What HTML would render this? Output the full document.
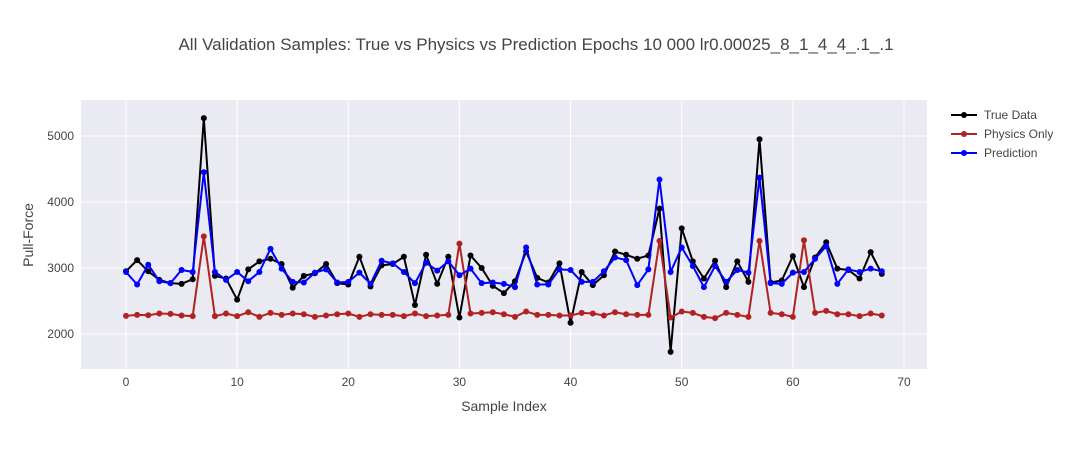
<!DOCTYPE html>
<html><head><meta charset="utf-8"><style>
body{margin:0;background:#fff;font-family:"Liberation Sans",sans-serif;}
svg text{font-family:"Liberation Sans",sans-serif;fill:#444;}
</style></head><body>
<svg id="chart" width="1073" height="450">
<text x="536" y="50" text-anchor="middle" font-size="17">All Validation Samples: True vs Physics vs Prediction Epochs 10 000 lr0.00025_8_1_4_4_.1_.1</text>
<rect x="81" y="100" width="846" height="269" fill="#eaeaf2"/>
<g id="grid"></g><g id="series"></g><g id="axes"></g>
<text x="504" y="411" text-anchor="middle" font-size="14">Sample Index</text>
<text transform="translate(33,235) rotate(-90)" text-anchor="middle" font-size="14">Pull-Force</text>
<g id="legend"></g>
</svg>
<script>
const trueData=[2950,3120,2950,2820,2770,2760,2830,5270,2880,2840,2520,2980,3100,3140,3060,2700,2880,2920,3060,2770,2750,3170,2720,3040,3060,3170,2440,3200,2760,3170,2250,3190,3000,2730,2620,2800,3250,2850,2780,3070,2170,2940,2740,2890,3250,3200,3140,3190,3900,1730,3600,3100,2840,3110,2710,3100,2790,4950,2780,2810,3180,2710,3160,3390,2990,2970,2840,3240,2910];
const physicsData=[2275,2290,2285,2310,2305,2280,2270,3480,2270,2310,2270,2330,2260,2320,2290,2310,2300,2260,2280,2300,2310,2260,2300,2290,2290,2270,2310,2270,2280,2290,3370,2310,2320,2330,2300,2260,2340,2290,2290,2280,2280,2320,2310,2280,2330,2300,2290,2290,3410,2250,2340,2320,2260,2240,2320,2290,2260,3410,2320,2300,2260,3420,2320,2350,2300,2300,2270,2310,2280];
const predData=[2940,2750,3050,2800,2770,2970,2940,4450,2940,2820,2940,2800,2940,3290,2990,2790,2780,2930,2980,2780,2790,2930,2760,3110,3070,2940,2770,3080,2960,3100,2890,2990,2770,2780,2760,2710,3310,2750,2750,2980,2970,2790,2790,2950,3160,3120,2740,2980,4340,2940,3310,3030,2710,3030,2790,2970,2930,4370,2770,2760,2930,2940,3140,3330,2760,2980,2940,2990,2950];
const xTicks=[0,10,20,30,40,50,60,70];
const yTicks=[2000,3000,4000,5000];
const seriesNames=["True Data","Physics Only","Prediction"];
const NS="http://www.w3.org/2000/svg";
const xs=v=>126+v*(778/70);
const ys=v=>334-(v-2000)*0.066;
function mk(t,a,p){const e=document.createElementNS(NS,t);for(const k in a)e.setAttribute(k,a[k]);p.appendChild(e);return e;}
const grid=document.getElementById('grid'),axes=document.getElementById('axes');
xTicks.forEach(t=>{
 const l=mk('line',{x1:xs(t),x2:xs(t),y1:100,y2:369,stroke:'#fff','stroke-width':1},grid);
 
 
 const tx=mk('text',{x:xs(t),y:386,'text-anchor':'middle','font-size':12},axes);tx.textContent=t;
 
 
});
yTicks.forEach(t=>{
 const l=mk('line',{x1:81,x2:927,y1:ys(t),y2:ys(t),stroke:'#fff','stroke-width':1},grid);
 
 
 const tx=mk('text',{x:74,y:ys(t)+4,'text-anchor':'end','font-size':12},axes);tx.textContent=t;
 
 
});
const ser=document.getElementById('series');
const colors=['#000000','#b22222','#0000ff'];
const datas=[trueData,physicsData,predData];
const snames=['true-data-series','physics-only-series','prediction-series'];
datas.forEach((d,i)=>{
 const g=mk('g',{},ser);
 
 
 mk('polyline',{points:d.map((v,j)=>xs(j)+','+ys(v)).join(' '),fill:'none',stroke:colors[i],'stroke-width':2},g);
 d.forEach((v,j)=>{
  const c=mk('circle',{cx:xs(j),cy:ys(v),r:3,fill:colors[i]},g);
  
  
 });
});
const leg=document.getElementById('legend');
seriesNames.forEach((n,i)=>{
 const y=115+i*19;
 const g=mk('g',{},leg);
 
 
 mk('line',{x1:951,x2:977,y1:y,y2:y,stroke:colors[i],'stroke-width':2},g);
 mk('circle',{cx:964,cy:y,r:3,fill:colors[i]},g);
 const t=mk('text',{x:984,y:y+4,'font-size':12},g);t.textContent=n;
});
</script>
</body></html>
